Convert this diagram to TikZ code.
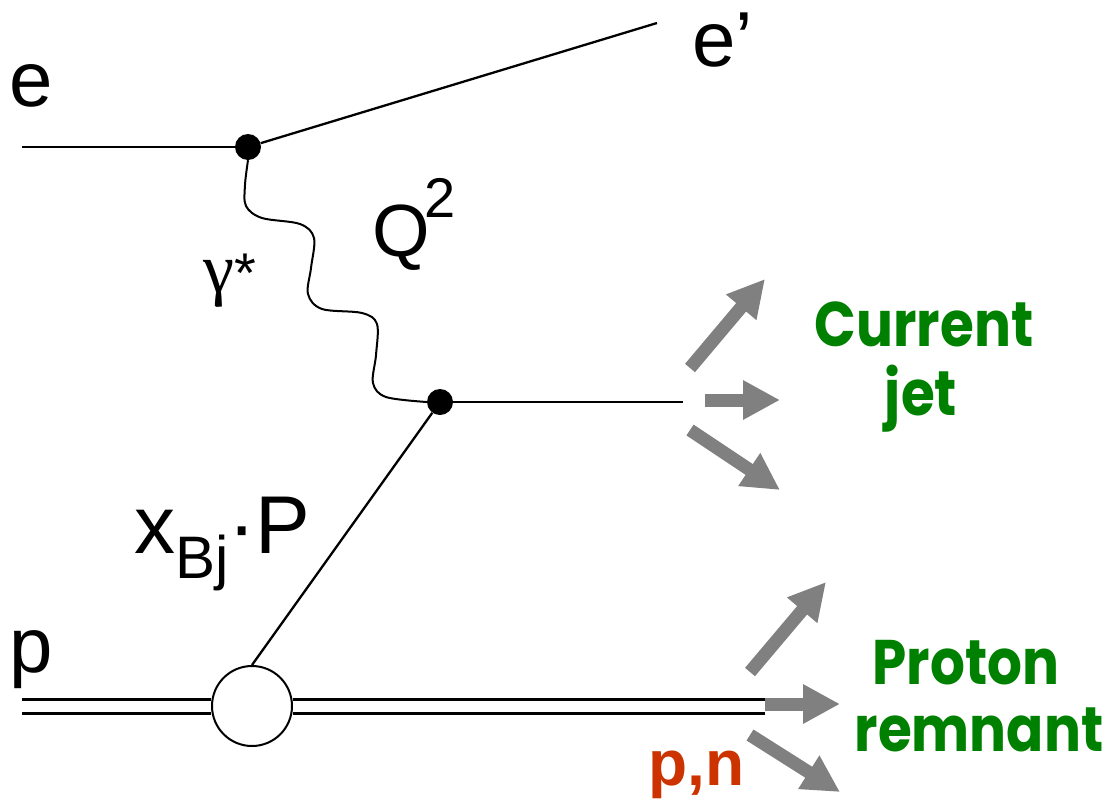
\documentclass[tikz,border=0pt]{standalone}
\usepackage{fontspec}
\usepackage{graphicx}
\setmainfont{Liberation Sans}
\newfontfamily\serifgk{Liberation Serif}
\newfontfamily\roundfont{Poppins}
\usetikzlibrary{arrows.meta}
\definecolor{jetgreen}{RGB}{0,128,0}
\definecolor{pnred}{RGB}{204,51,0}
\definecolor{arrgray}{RGB}{128,128,128}
\newcommand\gtxt[1]{\scalebox{0.87}[1]{#1}}
\begin{document}
\begin{tikzpicture}[x=1pt,y=-1pt,
  lbl/.style={inner sep=0pt, anchor=base west, font=\fontsize{78}{80}\selectfont},
  greenlbl/.style={inner sep=0pt, anchor=base, text=jetgreen, font=\roundfont\bfseries\fontsize{63}{66}\selectfont},
  vdot/.style={circle, fill=black, inner sep=0pt, minimum size=26pt},
  blobst/.style={circle, draw=black, line width=2pt, fill=white, inner sep=0pt, minimum size=80pt},
  fermion/.style={draw=black, line width=2.3pt},
  photon/.style={draw=black, line width=2pt},
  proton/.style={draw=black, line width=3pt, double=white, double distance=11pt},
  fat/.style={draw=arrgray, line width=13pt, -{Triangle[length=37pt,width=37pt]}}
]
\useasboundingbox (0,0) rectangle (1108,801);
% vertices
\node[vdot] (v1) at (248,147) {};
\node[vdot] (v2) at (440,402) {};
\coordinate (ein) at (22,147);
\coordinate (eout) at (657,23);
\coordinate (qout) at (683,402);
\coordinate (pin) at (22,706);
\coordinate (pout) at (765,706);
\node[blobst] (blob) at (252,706) {};
% lines
\draw[fermion] (ein) -- (v1);
\draw[fermion] (v1) -- (eout);
\draw[fermion] (v2) -- (qout);
\draw[fermion] (blob.north) -- (v2);
\draw[proton] (pin) -- (blob);
\draw[proton] (blob) -- (pout);
% photon
\draw[photon] plot[smooth, tension=0.55] coordinates {(v1.south) (245,185) (246,206) (262,218) (300,224) (314,238) (311,268) (308,294) (322,309) (362,313) (377,324) (376,355) (373,383) (386,397) (v2.west)};
% fat arrows
\coordinate (j1s) at (690,368); \coordinate (j1e) at (765,279);
\coordinate (j2s) at (705,400); \coordinate (j2e) at (780,400);
\coordinate (j3s) at (690,430); \coordinate (j3e) at (780,490);
\coordinate (r1s) at (750,672); \coordinate (r1e) at (826,582);
\coordinate (r2s) at (765,704); \coordinate (r2e) at (840,704);
\coordinate (r3s) at (750,735); \coordinate (r3e) at (840,792);
\draw[fat] (j1s) -- (j1e);
\draw[fat] (j2s) -- (j2e);
\draw[fat] (j3s) -- (j3e);
\draw[fat] (r1s) -- (r1e);
\draw[fat] (r2s) -- (r2e);
\draw[fat] (r3s) -- (r3e);
% labels
\node[lbl] (te) at (9,106) {e};
\node[lbl] (tep) at (692,66) {e’};
\node[lbl] (tp) at (9,672) {p};
\node[lbl, font=\fontsize{74}{76}\selectfont] (tq) at (372,256) {Q\kern-5pt\raisebox{39pt}{\fontsize{56}{58}\selectfont 2}};
\node[lbl, font=\fontsize{82}{84}\selectfont] (tx) at (134,553) {x\raisebox{-25pt}{\fontsize{60}{62}\selectfont Bj}·P};
\node[lbl] (tg) at (203,292) {{\serifgk\fontsize{70}{72}\selectfont γ}{\fontsize{56}{58}\selectfont *}};
\node[greenlbl] (tcur) at (924,346) {\gtxt{Current}};
\node[greenlbl] (tjet) at (921,415) {\gtxt{jet}};
\node[greenlbl] (tpro) at (966,684) {\gtxt{Proton}};
\node[greenlbl] (trem) at (979,751) {\gtxt{remnant}};
\node[inner sep=0pt, anchor=base west, text=pnred, font=\bfseries\fontsize{64}{66}\selectfont] (tpn) at (648,785) {p,n};
\end{tikzpicture}
\end{document}
